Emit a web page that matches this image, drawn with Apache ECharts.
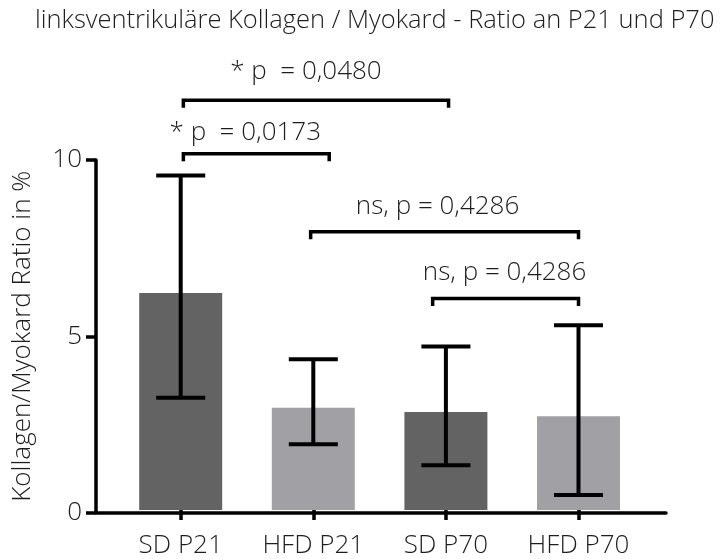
<!DOCTYPE html>
<html>
<head>
<meta charset="utf-8">
<script src="https://cdn.jsdelivr.net/npm/echarts@6/dist/echarts.min.js"></script>
<style>
  html, body { margin: 0; padding: 0; background: #fff; }
  #chart { width: 721px; height: 559px; }
</style>
</head>
<body>
<div id="chart"></div>
<script>
// Groups and their collagen / myocardium ratios (%)
const categories = ['SD P21', 'HFD P21', 'SD P70', 'HFD P70'];
const barValues = [6.2, 2.92, 2.8, 2.68];
const errorLow = [3.21, 1.88, 1.28, 0.43];
const errorHigh = [9.56, 4.31, 4.67, 5.28];
const yTicks = [0, 5, 10];

// Pairwise comparisons: bracket ends (category positions), bracket height, label
const bracketFrom = [0.02, 0.02, 0.98, 1.9];
const bracketTo = [2.02, 1.12, 3.0, 3.0];
const bracketLevel = [11.71, 10.18, 7.95, 6.04];
const bracketLabel = ['* p  = 0,0480', '* p  = 0,0173', 'ns, p = 0,4286', 'ns, p = 0,4286'];

const DARK = '#636363';
const LIGHT = '#a1a1a5';
const barColors = [DARK, LIGHT, DARK, LIGHT];
const FONT = 'Open Sans';
const TEXT = '#1e1e1e';
const FS = 26;

// hand placement of each bracket caption relative to its bracket (px)
const captionShift = [[-10, -16], [-11, -8], [-7, -12], [-1, -13]];

const chart = echarts.init(document.getElementById('chart'), null, { renderer: 'canvas' });

function catX(api, pos) {
  const i = Math.floor(pos);
  const f = pos - i;
  return api.coord([i, 0])[0] + f * api.size([1, 0])[0];
}

const option = {
  backgroundColor: '#fff',
  animation: false,
  title: {
    text: 'linksventrikuläre Kollagen / Myokard - Ratio an P21 und P70',
    left: 30,
    top: 3,
    textStyle: { fontFamily: FONT, fontWeight: 300, fontSize: 25.5, color: TEXT }
  },
  grid: [
    { left: 114.4, right: 76.2, top: 160, bottom: 46.5 },
    { left: 96, right: 55, top: 160, bottom: 46.5 }
  ],
  xAxis: [
    {
      type: 'category', gridIndex: 0, data: categories,
      axisLine: { show: false },
      axisTick: { show: true, alignWithLabel: true, length: 10, lineStyle: { color: '#000', width: 3.5 } },
      axisLabel: { margin: 23, fontFamily: FONT, fontWeight: 300, fontSize: FS, color: TEXT }
    },
    {
      type: 'value', gridIndex: 1, min: 0, max: 1,
      axisLine: { show: true, lineStyle: { color: '#000', width: 3.5 } },
      axisTick: { show: false }, axisLabel: { show: false }, splitLine: { show: false }
    }
  ],
  yAxis: [
    { type: 'value', gridIndex: 0, min: yTicks[0], max: yTicks[yTicks.length - 1], show: false },
    {
      type: 'value', gridIndex: 1, min: yTicks[0], max: yTicks[yTicks.length - 1], interval: yTicks[1] - yTicks[0],
      name: 'Kollagen/Myokard Ratio in %',
      nameLocation: 'middle', nameGap: 60, nameRotate: 90,
      nameTextStyle: { fontFamily: FONT, fontWeight: 300, fontSize: FS, color: TEXT },
      axisLine: { show: true, lineStyle: { color: '#000', width: 3.5 } },
      axisTick: { show: true, length: 10, lineStyle: { color: '#000', width: 3.5 } },
      axisLabel: { margin: 14, fontFamily: FONT, fontWeight: 300, fontSize: FS, color: TEXT },
      splitLine: { show: false }
    }
  ],
  series: [
    {
      type: 'bar', xAxisIndex: 0, yAxisIndex: 0, barWidth: 83,
      data: barValues.map((v, i) => ({ value: v, itemStyle: { color: barColors[i] } })),
      z: 2
    },
    {
      // error bars
      type: 'custom', xAxisIndex: 0, yAxisIndex: 0, z: 3,
      data: categories.map((c, i) => [i, errorLow[i], errorHigh[i]]),
      renderItem: function (params, api) {
        const i = params.dataIndex;
        const lo = api.coord([i, errorLow[i]]);
        const hi = api.coord([i, errorHigh[i]]);
        const half = 24.5;
        const style = { stroke: '#000', lineWidth: 4, fill: null };
        return {
          type: 'group',
          children: [
            { type: 'line', shape: { x1: hi[0], y1: hi[1], x2: lo[0], y2: lo[1] }, style },
            { type: 'line', shape: { x1: hi[0] - half, y1: hi[1], x2: hi[0] + half, y2: hi[1] }, style },
            { type: 'line', shape: { x1: lo[0] - half, y1: lo[1], x2: lo[0] + half, y2: lo[1] }, style }
          ]
        };
      }
    },
    {
      // significance brackets
      type: 'custom', xAxisIndex: 0, yAxisIndex: 0, z: 4, clip: false,
      data: bracketLevel.map((lvl, i) => [Math.floor(bracketFrom[i]), lvl]),
      renderItem: function (params, api) {
        const i = params.dataIndex;
        const x1 = catX(api, bracketFrom[i]);
        const x2 = catX(api, bracketTo[i]);
        const y = api.coord([0, bracketLevel[i]])[1];
        const drop = 7.5;
        const shift = captionShift[i];
        return {
          type: 'group',
          children: [
            {
              type: 'polyline',
              shape: { points: [[x1, y + drop], [x1, y], [x2, y], [x2, y + drop]] },
              style: { stroke: '#000', lineWidth: 3.5, fill: null, lineJoin: 'miter' }
            },
            {
              type: 'text',
              style: {
                text: bracketLabel[i],
                x: (x1 + x2) / 2 + shift[0],
                y: y + shift[1],
                align: 'center',
                verticalAlign: 'bottom',
                font: '300 ' + FS + 'px "' + FONT + '"',
                fill: TEXT
              }
            }
          ]
        };
      }
    }
  ]
};

chart.setOption(option);
</script>
</body>
</html>
